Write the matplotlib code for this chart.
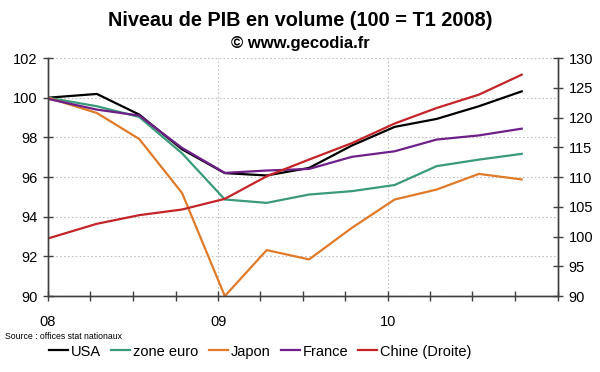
import pandas as pd
import matplotlib.pyplot as plt

plt.rcParams['font.family'] = ['Liberation Sans', 'DejaVu Sans']

# dates des points (trimestres, T1 2008 en debut d'axe)
dates = pd.to_datetime(['2008-01-01', '2008-04-15', '2008-07-15', '2008-10-15',
                        '2009-01-15', '2009-04-15', '2009-07-15', '2009-10-15',
                        '2010-01-15', '2010-04-15', '2010-07-15', '2010-10-15'])

usa = [100.0, 100.19, 99.15, 97.4, 96.2, 96.08, 96.46, 97.59, 98.53, 98.93, 99.57, 100.32]
zone_euro = [100.0, 99.57, 99.03, 97.2, 94.87, 94.7, 95.12, 95.29, 95.6, 96.55, 96.88, 97.17]
japon = [100.0, 99.23, 97.92, 95.2, 90.0, 92.32, 91.85, 93.44, 94.87, 95.37, 96.16, 95.88]
france = [99.94, 99.4, 99.1, 97.47, 96.21, 96.33, 96.41, 97.02, 97.3, 97.89, 98.1, 98.44]
chine = [99.69, 102.15, 103.6, 104.55, 106.34, 110.14, 112.94, 115.7, 119.0, 121.6, 123.85, 127.2]

quarter_ticks = pd.date_range('2008-01-01', '2011-01-01', freq='QS')
quarter_labels = ['08', '', '', '', '09', '', '', '', '10', '', '', '', '']
year_lines = pd.to_datetime(['2009-01-01', '2010-01-01'])

fig = plt.figure(figsize=(6, 3.72), dpi=100)
ax = fig.add_axes([0.08, 0.204, 0.85, 0.64])
ax2 = ax.twinx()

lw = 1.6
l1, = ax.plot(dates, usa, color='black', lw=lw, label='USA')
l2, = ax.plot(dates, zone_euro, color='#3a9a7a', lw=lw, label='zone euro')
l3, = ax.plot(dates, japon, color='#e07a28', lw=lw, label='Japon')
l4, = ax.plot(dates, france, color='#6e2088', lw=lw, label='France')
l5, = ax2.plot(dates, chine, color='#c42428', lw=lw, label='Chine (Droite)')

ax.set_ylim(90, 102)
ax.set_yticks(range(90, 103, 2))
ax2.set_ylim(90, 130)
ax2.set_yticks(range(90, 131, 5))
ax.set_xlim(quarter_ticks[0], quarter_ticks[-1])

ax.set_xticks(quarter_ticks)
ax.set_xticklabels(quarter_labels)

dots = (0, (1.5, 2))
ax.grid(axis='y', color='#c0c0c0', linestyle=dots, lw=0.8)
for d in year_lines:
    ax.axvline(d, color='#c0c0c0', linestyle=dots, lw=0.8, zorder=0.5)

for a in (ax, ax2):
    a.spines['top'].set_visible(False)
    for s in a.spines.values():
        s.set_color('#404040')
        s.set_linewidth(1)
ax.tick_params(axis='y', direction='inout', length=7, width=1, labelsize=10.5, pad=4,
               color='#404040')
ax2.tick_params(axis='y', direction='inout', length=7, width=1, labelsize=10.5, pad=4,
                color='#404040')
ax.tick_params(axis='x', direction='inout', length=7, width=1, labelsize=10.5, pad=10,
               color='#404040', bottom=True)

fig.text(0.5, 0.97, 'Niveau de PIB en volume (100 = T1 2008)', ha='center', va='top',
         fontsize=14.3, fontweight='bold')
fig.text(0.5, 0.902, '© www.gecodia.fr', ha='center', va='top',
         fontsize=12, fontweight='bold')
fig.text(0.008, 0.09, 'Source : offices stat nationaux', fontsize=6.3)

fig.legend(handles=[l1, l2, l3, l4, l5], loc='center', bbox_to_anchor=(0.434, 0.055),
           ncol=5, frameon=False, fontsize=10.5, handlelength=1.3, handletextpad=0.2,
           columnspacing=0.7)

fig.savefig('out.png', dpi=100)
